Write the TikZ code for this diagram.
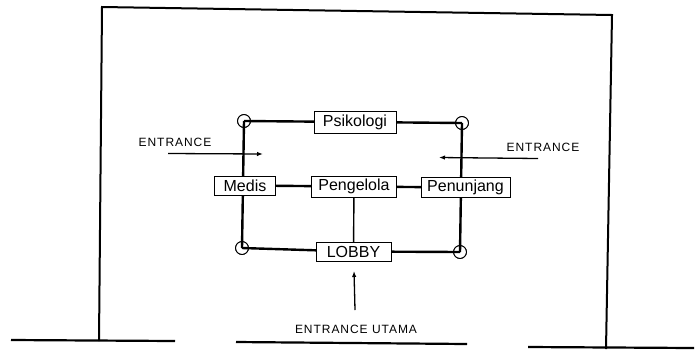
\documentclass[tikz,border=0pt]{standalone}
\usepackage{fontspec}
\setmainfont{Liberation Sans}
\newfontfamily\entfont[LetterSpace=8]{Liberation Sans}
\usetikzlibrary{arrows.meta}
\begin{document}
\begin{tikzpicture}[x=1pt,y=-1pt,
  room/.style={draw,line width=0.9pt,fill=white,inner sep=0pt,font=\fontsize{16}{16}\selectfont},
  joint/.style={draw,circle,line width=0.8pt,minimum size=13pt,inner sep=0pt},
  wall/.style={line width=2pt},
  ground/.style={line width=2.2pt},
  link/.style={line width=2.4pt},
  thinlink/.style={line width=1.4pt},
  entry/.style={line width=1.3pt,-{Latex[length=6pt,width=4.5pt]}},
  lbl/.style={font=\entfont\fontsize{12}{12}\selectfont,inner sep=0pt}]
\useasboundingbox (0,0) rectangle (695,349);
% outer frame
\coordinate (w1) at (99,341);
\coordinate (w2) at (102,7);
\coordinate (w3) at (612,15);
\coordinate (w4) at (606,349);
\draw[wall] (w1) -- (w2) -- (w3) -- (w4);
% ground lines
\coordinate (g1a) at (11,340); \coordinate (g1b) at (175,341);
\coordinate (g2a) at (236,342); \coordinate (g2b) at (467,344);
\coordinate (g3a) at (528,347); \coordinate (g3b) at (694,348);
\draw[ground] (g1a) -- (g1b);
\draw[ground] (g2a) -- (g2b);
\draw[ground] (g3a) -- (g3b);
% joints
\node[joint] (tl) at (244,121) {};
\node[joint] (tr) at (462,123) {};
\node[joint] (bl) at (242,248) {};
\node[joint] (br) at (460,252) {};
% rooms (positions)
\coordinate (cpsi) at (355,122);
\coordinate (cmed) at (245,185.5);
\coordinate (cpen) at (354,186.5);
\coordinate (cpnj) at (465.5,187.5);
\coordinate (clob) at (353.5,251.5);
% connectors
\draw[link] (tl.center) -- (cpsi) -- (tr.center);
\draw[link] (tl.center) -- (bl.center);
\draw[link] (tr.center) -- (br.center);
\draw[link] (bl.center) -- (clob) -- (br.center);
\draw[link] (cmed) -- (cpen) -- (cpnj);
\draw[thinlink] (cpen) -- (clob);
% room boxes
\node[room,minimum width=82pt,minimum height=22pt] (psi) at (cpsi) {Psikologi};
\node[room,minimum width=61pt,minimum height=19pt] (med) at (cmed) {Medis};
\node[room,minimum width=85pt,minimum height=21pt] (pen) at (cpen) {Pengelola};
\node[room,minimum width=89pt,minimum height=19.5pt] (pnj) at (cpnj) {Penunjang};
\node[room,minimum width=75pt,minimum height=19pt] (lob) at (clob) {LOBBY};
% joints redrawn on top
\node[joint] at (tl) {};
\node[joint] at (tr) {};
\node[joint] at (bl) {};
\node[joint] at (br) {};
% entrances
\node[lbl] (el) at (175,142) {ENTRANCE};
\coordinate (ela) at (168,153.5);
\coordinate (elb) at (263,154);
\draw[entry] (ela) -- (elb);
\node[lbl] (er) at (543,147) {ENTRANCE};
\coordinate (era) at (538,158.5);
\coordinate (erb) at (439,157.5);
\draw[entry] (era) -- (erb);
\node[lbl] (eu) at (356,329) {ENTRANCE UTAMA};
\coordinate (eua) at (355,310);
\coordinate (eub) at (354,271);
\draw[entry] (eua) -- (eub);
\end{tikzpicture}
\end{document}
